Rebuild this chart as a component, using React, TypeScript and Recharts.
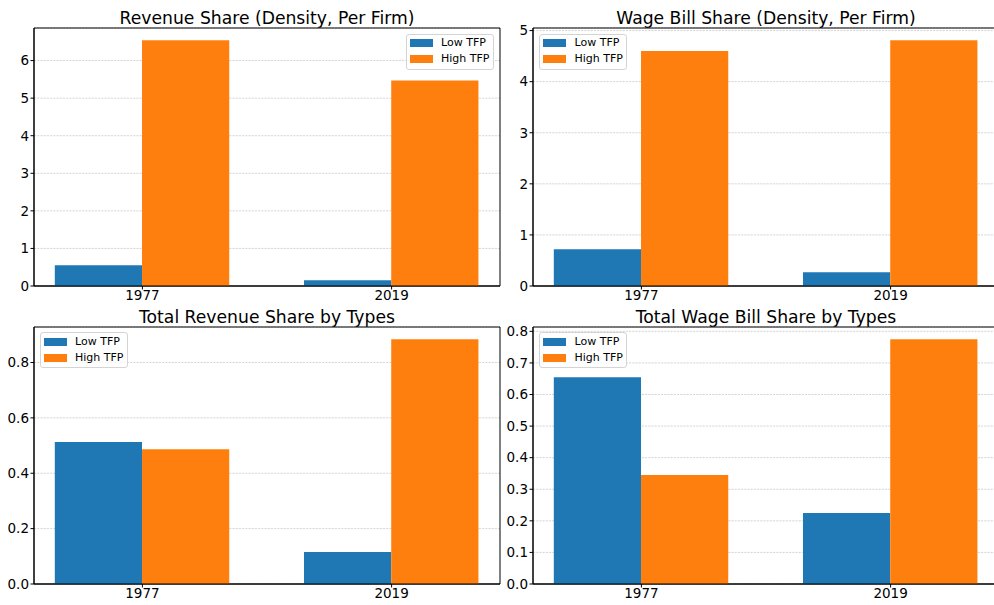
import React from 'react';
import { BarChart, Bar, XAxis, YAxis, CartesianGrid, ReferenceArea } from 'recharts';

const years = ['1977', '2019'];
const seriesNames = ['Low TFP', 'High TFP'];

const revenueDensityLow = [0.55, 0.15];
const revenueDensityHigh = [6.54, 5.47];
const wageDensityLow = [0.72, 0.27];
const wageDensityHigh = [4.6, 4.81];
const totalRevenueLow = [0.513, 0.116];
const totalRevenueHigh = [0.487, 0.884];
const totalWageLow = [0.655, 0.225];
const totalWageHigh = [0.345, 0.775];

const revenueDensityTicks = [0, 1, 2, 3, 4, 5, 6];
const wageDensityTicks = [0, 1, 2, 3, 4, 5];
const totalRevenueTicks = [0, 0.2, 0.4, 0.6, 0.8];
const totalWageTicks = [0, 0.1, 0.2, 0.3, 0.4, 0.5, 0.6, 0.7, 0.8];

const BLUE = '#1f77b4';
const ORANGE = '#ff7f0e';
const FONT = '"DejaVu Sans", sans-serif';

// matplotlib-like layout: bars 0.35 wide, 5% x margins
const BAR_W = 0.35;
const X_MIN = -0.435;
const X_MAX = 1.435;
const PLOT_W = 466;
const Y_W = 40;
const M_T = 10;
const X_H = 22;
const M_R = 6;

type PanelProps = {
  title: string;
  low: number[];
  high: number[];
  ticks: number[];
  decimals: number;
  plotLeft: number;
  plotTop: number;
  plotH: number;
  legendLeft: number;
  legendTop: number;
};

const tickStyle = { fill: '#000', fontSize: 13.5, fontFamily: FONT };

const Panel: React.FC<PanelProps> = ({ title, low, high, ticks, decimals, plotLeft, plotTop, plotH, legendLeft, legendTop }) => {
  const data = years.map((year, i) => ({ x: i, year, low: low[i], high: high[i] }));
  const yMax = Math.max(...low, ...high) * 1.05;
  const barSize = (BAR_W * PLOT_W) / (X_MAX - X_MIN);

  return (
    <>
      {/* title */}
      <div
        style={{
          position: 'absolute',
          left: plotLeft,
          top: plotTop - 18,
          width: PLOT_W,
          textAlign: 'center',
          fontSize: 17.2,
          lineHeight: '1',
          fontFamily: FONT,
          color: '#000',
          whiteSpace: 'nowrap'
        }}
      >
        {title}
      </div>

      <div style={{ position: 'absolute', left: plotLeft - Y_W, top: plotTop - M_T }}>
        <BarChart
          width={Y_W + PLOT_W + M_R}
          height={M_T + plotH + X_H}
          data={data}
          margin={{ top: M_T, right: M_R, bottom: 0, left: 0 }}
          barGap={0}
          barSize={barSize}
        >
          <CartesianGrid vertical={false} stroke="#cccccc" strokeDasharray="2.2 1" strokeWidth={0.8} />
          <XAxis
            type="number"
            dataKey="x"
            domain={[X_MIN, X_MAX]}
            ticks={[0, 1]}
            interval={0}
            allowDataOverflow
            tickFormatter={(v: number) => years[v]}
            height={X_H}
            tickSize={3.5}
            tickMargin={1}
            stroke="#000"
            tick={tickStyle}
          />
          <YAxis
            type="number"
            domain={[0, yMax]}
            ticks={ticks}
            interval={0}
            allowDataOverflow
            tickFormatter={(v: number) => v.toFixed(decimals)}
            width={Y_W}
            tickSize={3.5}
            tickMargin={1.5}
            stroke="#000"
            tick={tickStyle}
          />
          <Bar dataKey="low" name={seriesNames[0]} fill={BLUE} isAnimationActive={false} />
          <Bar dataKey="high" name={seriesNames[1]} fill={ORANGE} isAnimationActive={false} />
          <ReferenceArea x1={X_MIN} x2={X_MAX} y1={0} y2={yMax} fill="none" stroke="#000" strokeWidth={1} ifOverflow="visible" />
        </BarChart>
      </div>

      {/* legend */}
      <div
        style={{
          position: 'absolute',
          left: legendLeft,
          top: legendTop,
          width: 88,
          height: 36,
          boxSizing: 'border-box',
          border: '1px solid #d4d4d4',
          borderRadius: 3,
          background: 'rgba(255,255,255,0.8)',
          fontFamily: FONT,
          fontSize: 11,
          color: '#000'
        }}
      >
        {seriesNames.map((name, i) => (
          <div
            key={name}
            style={{ position: 'absolute', left: 3, top: 4.7 + i * 16, height: 8, display: 'flex', alignItems: 'center', whiteSpace: 'nowrap' }}
          >
            <span style={{ display: 'inline-block', width: 23, height: 8, background: i === 0 ? BLUE : ORANGE }} />
            <span style={{ marginLeft: 8.5, lineHeight: '8px' }}>{name}</span>
          </div>
        ))}
      </div>
    </>
  );
};

const App: React.FC = () => {
  return (
    <div style={{ position: 'absolute', left: 0, top: 0, width: 994, height: 605, overflow: 'hidden', background: '#fff' }}>
      <Panel
        title="Revenue Share (Density, Per Firm)"
        low={revenueDensityLow}
        high={revenueDensityHigh}
        ticks={revenueDensityTicks}
        decimals={0}
        plotLeft={34}
        plotTop={28}
        plotH={258}
        legendLeft={405.5}
        legendTop={33.5}
      />
      <Panel
        title="Wage Bill Share (Density, Per Firm)"
        low={wageDensityLow}
        high={wageDensityHigh}
        ticks={wageDensityTicks}
        decimals={0}
        plotLeft={533}
        plotTop={28}
        plotH={258}
        legendLeft={539}
        legendTop={33.5}
      />
      <Panel
        title="Total Revenue Share by Types"
        low={totalRevenueLow}
        high={totalRevenueHigh}
        ticks={totalRevenueTicks}
        decimals={1}
        plotLeft={34}
        plotTop={327}
        plotH={257}
        legendLeft={39.5}
        legendTop={332}
      />
      <Panel
        title="Total Wage Bill Share by Types"
        low={totalWageLow}
        high={totalWageHigh}
        ticks={totalWageTicks}
        decimals={1}
        plotLeft={533}
        plotTop={327}
        plotH={257}
        legendLeft={539}
        legendTop={332}
      />
    </div>
  );
};

export default App;
